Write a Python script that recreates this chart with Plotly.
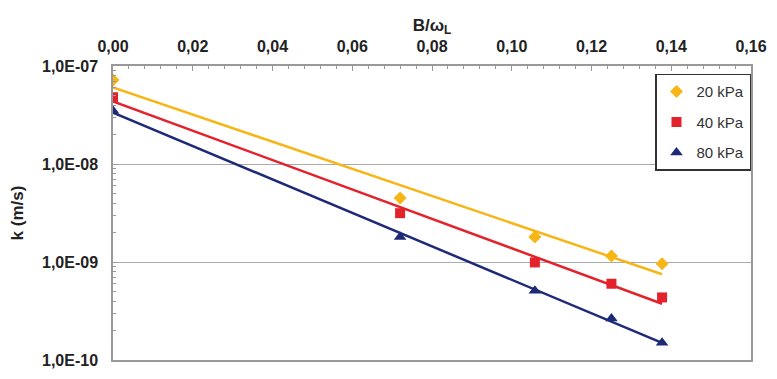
import numpy as np
import plotly.graph_objects as go

x_vals = [0.0, 0.072, 0.1058, 0.125, 0.1377]
k_20 = [7.2e-8, 4.5e-9, 1.8e-9, 1.15e-9, 9.6e-10]
k_40 = [4.8e-8, 3.15e-9, 9.9e-10, 6.0e-10, 4.35e-10]
k_80 = [3.5e-8, 1.8e-9, 5.1e-10, 2.65e-10, 1.5e-10]
series_names = ["20 kPa", "40 kPa", "80 kPa"]
colors = ["#F7B616", "#E4222B", "#1E2A78"]
symbols = ["diamond", "square", "triangle-up"]
x_ticks = [0.0, 0.02, 0.04, 0.06, 0.08, 0.10, 0.12, 0.14, 0.16]
x_tick_text = ["0,00", "0,02", "0,04", "0,06", "0,08", "0,10", "0,12", "0,14", "0,16"]
y_ticks = [1e-10, 1e-9, 1e-8, 1e-7]
y_tick_text = ["1,0E-10", "1,0E-09", "1,0E-08", "1,0E-07"]
y_minor = [m * 10.0 ** e for e in (-10, -9, -8) for m in range(2, 10)]

fig = go.Figure()
xs = np.array(x_vals)
for i, (name, ys) in enumerate(zip(series_names, [k_20, k_40, k_80])):
    ys = np.array(ys)
    b, a = np.polyfit(xs, np.log10(ys), 1)
    xl = np.array([xs.min(), xs.max()])
    yl = 10 ** (a + b * xl)
    fig.add_trace(go.Scatter(x=xl, y=yl, mode="lines", line=dict(color=colors[i], width=2.5),
                             showlegend=False, hoverinfo="skip"))
for i, (name, ys) in enumerate(zip(series_names, [k_20, k_40, k_80])):
    fig.add_trace(go.Scatter(x=x_vals, y=ys, mode="markers", name=name, legendgroup=name,
                             marker=dict(color=colors[i], symbol=symbols[i],
                                         size=[10, 10, 11][i])))

font = "Liberation Sans, Arial, sans-serif"
fig.update_layout(
    width=777, height=379,
    margin=dict(l=113, r=20, t=66, b=10),
    paper_bgcolor="white", plot_bgcolor="white",
    font=dict(family=font, size=13, color="#222"),
    legend=dict(x=1.0, y=0.974, xanchor="right", yanchor="top",
                bordercolor="#333", borderwidth=1.5, bgcolor="white",
                font=dict(size=15, color="#333"), tracegroupgap=8,
                traceorder="grouped", itemwidth=30),
    xaxis=dict(range=[0, 0.16], side="top", tickvals=x_ticks, ticktext=x_tick_text,
               tickfont=dict(size=16, weight="bold", color="#222"),
               ticks="inside", ticklen=5, tickcolor="#999", ticklabelstandoff=6,
               minor=dict(dtick=0.004, ticks="inside", ticklen=3, tickcolor="#999"),
               showline=True, linecolor="#999", linewidth=1.5, mirror=True,
               showgrid=False, zeroline=False,
               title=dict(text="B/ω<sub>L</sub>", font=dict(size=17, weight="bold", color="#222"),
                          standoff=2)),
    yaxis=dict(type="log", range=[-10, -7], tickvals=y_ticks, ticktext=y_tick_text,
               tickfont=dict(size=16, weight="bold", color="#222"),
               ticks="inside", ticklen=5, tickcolor="#999", ticklabelstandoff=10,
               minor=dict(tickvals=y_minor, ticks="inside", ticklen=3, tickcolor="#999",
                          showgrid=False),
               showline=True, linecolor="#999", linewidth=1.5, mirror=True,
               showgrid=True, gridcolor="#aaa", gridwidth=1,
               title=dict(text="k (m/s)", font=dict(size=17, weight="bold", color="#222"),
                          standoff=14)),
)
fig.write_html("out.html")
